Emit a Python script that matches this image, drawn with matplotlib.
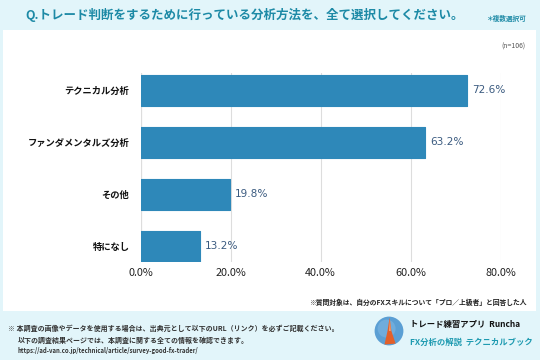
import matplotlib
matplotlib.use("Agg")
import matplotlib.pyplot as plt
from matplotlib.patches import Rectangle, Circle, Polygon

plt.rcParams['font.family'] = ['Noto Sans CJK JP', 'DejaVu Sans']

categories = ["テクニカル分析", "ファンダメンタルズ分析", "その他", "特になし"]
values = [72.6, 63.2, 19.8, 13.2]
xticks = [0, 20, 40, 60, 80]
xtick_labels = ["0.0%", "20.0%", "40.0%", "60.0%", "80.0%"]

W, H = 540, 360
fig = plt.figure(figsize=(5.4, 3.6), dpi=100)
fig.patch.set_facecolor("#e2f5fa")

def fx(x):
    return x / W

def fy(y):
    return 1 - y / H

# white panel
fig.patches.append(Rectangle((fx(3), fy(311)), 533 / W, 281 / H,
                             transform=fig.transFigure, facecolor="white",
                             edgecolor="none", zorder=-10))

# title
fig.text(fx(25), fy(15), "Q.トレード判断をするために行っている分析方法を、全て選択してください。",
         fontsize=9.0, fontweight="bold", color="#1d8aa6", va="center", ha="left")
fig.text(fx(526), fy(18), "＊複数選択可", fontsize=4.8, color="#1d8aa6",
         va="center", ha="right", fontweight="bold")
fig.text(fx(526), fy(47), "(n=106)", fontsize=5, color="#555555",
         va="center", ha="right")

# axes
left, right = 140.5, 500.5
top, bottom = 73, 262
ax = fig.add_axes([fx(left), fy(bottom), (right - left) / W, (bottom - top) / H])
ax.set_facecolor("none")
ypos = list(range(len(categories)))
bar_color = "#2e88b9"
ax.barh(ypos, values, height=0.6, color=bar_color, edgecolor=bar_color,
        linewidth=0.8, joinstyle="round", zorder=3)
ax.set_xlim(0, 80)
ax.set_ylim(3.3, -0.33)
ax.set_xticks(xticks)
ax.set_xticklabels(xtick_labels, fontsize=7.8, color="#222222")
ax.set_yticks(ypos)
ax.set_yticklabels(categories, fontsize=6.7, fontweight="bold", color="#111111")
ax.tick_params(axis="both", length=0)
ax.tick_params(axis="y", pad=8)
ax.tick_params(axis="x", pad=4)
for s in ax.spines.values():
    s.set_visible(False)
ax.grid(axis="x", color="#dddddd", linewidth=0.8, zorder=0)
ax.axvline(0, color="#cccccc", linewidth=0.8, zorder=1)
for y, v in zip(ypos, values):
    ax.text(v + 1.1, y, f"{v:.1f}%", va="center", ha="left",
            fontsize=7.6, color="#3b5b80", family="DejaVu Sans")

# footnote
fig.text(fx(527), fy(302), "※質問対象は、自分のFXスキルについて「プロ／上級者」と回答した人",
         fontsize=4.9, fontweight="bold", color="#222222", va="center", ha="right")

# bottom notes
fig.text(fx(8), fy(328), "※ 本調査の画像やデータを使用する場合は、出典元として以下のURL（リンク）を必ずご記載ください。",
         fontsize=5.0, fontweight="bold", color="#333333", va="center", ha="left")
fig.text(fx(18), fy(340), "以下の調査結果ページでは、本調査に関する全ての情報を確認できます。",
         fontsize=5.0, fontweight="bold", color="#333333", va="center", ha="left")
fig.text(fx(18), fy(351), "https://ad-van.co.jp/technical/article/survey-good-fx-trader/",
         fontsize=4.3, fontweight="bold", color="#333333", va="center", ha="left")

# logo
lax = fig.add_axes([fx(374), fy(346), 30 / W, 30 / H])
lax.set_xlim(0, 1)
lax.set_ylim(0, 1)
lax.set_aspect("equal")
lax.axis("off")
lax.add_patch(Circle((0.5, 0.5), 0.48, facecolor="#5b9fd4", edgecolor="none"))
lax.add_patch(Circle((0.42, 0.58), 0.3, facecolor="#7db6e2", edgecolor="none", alpha=0.6))
lax.add_patch(Polygon([[0.52, 0.95], [0.58, 0.5], [0.72, 0.08], [0.35, 0.05], [0.45, 0.5]],
                      closed=True, facecolor="#e2602a", edgecolor="none"))
lax.add_patch(Polygon([[0.53, 0.9], [0.56, 0.5], [0.5, 0.5]],
                      closed=True, facecolor="#f3a070", edgecolor="none"))

fig.text(fx(410), fy(325), "トレード練習アプリ  Runcha", fontsize=6.0, fontweight="bold",
         color="#111111", va="center", ha="left")
fig.text(fx(410), fy(342), "FX分析の解説  テクニカルブック", fontsize=6.0, fontweight="bold",
         color="#1d9ab0", va="center", ha="left")

fig.savefig("out.png", dpi=100, facecolor=fig.get_facecolor())
